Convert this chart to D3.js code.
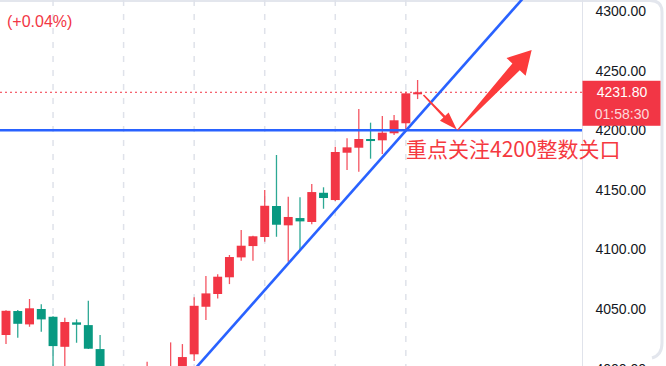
<!DOCTYPE html>
<html>
<head>
<meta charset="utf-8">
<script src="https://cdn.jsdelivr.net/npm/d3@7"></script>
<style>
  body { margin: 0; background: #fff; }
  svg { display: block; }
</style>
</head>
<body>
<svg id="chart"></svg>
<script>
// candles, oldest first (red = up, green = down)
const opens  = [4028.2, 4048.3, 4037.1, 4050.0, 4043.5, 4018.3, 4038.8, 4036.5, 4016.4, 3991.0,
                3980.0, 3972.0, 3982.0, 3997.0, 3989.0, 3998.0, 4012.0, 4051.9, 4062.6, 4076.6,
                4093.3, 4102.8, 4110.4, 4136.4, 4120.2, 4126.3, 4123.0, 4147.5, 4141.4, 4181.1,
                4185.3, 4192.6, 4191.5, 4197.4, 4205.8, 4230.1];
const highs  = [4049.0, 4049.1, 4058.4, 4053.9, 4044.0, 4042.7, 4041.3, 4056.9, 4028.2, 3998.0,
                3988.0, 3986.0, 4005.8, 4001.0, 4022.0, 4020.6, 4059.8, 4077.7, 4079.1, 4095.3,
                4116.2, 4111.5, 4149.8, 4179.2, 4144.2, 4143.7, 4154.8, 4152.1, 4186.1, 4193.2,
                4217.8, 4206.3, 4211.9, 4212.7, 4232.3, 4242.1];
const lows   = [4020.6, 4025.9, 4035.1, 4030.9, 3995.0, 3996.0, 4021.7, 4016.5, 3984.0, 3976.0,
                3966.0, 3963.0, 3978.0, 3984.0, 3985.0, 3993.0, 4006.3, 4040.7, 4058.9, 4070.9,
                4090.5, 4090.5, 4106.4, 4110.6, 4089.7, 4098.6, 4121.0, 4134.1, 4140.6, 4166.6,
                4165.2, 4176.1, 4180.0, 4195.9, 4201.0, 4226.1];
const closes = [4048.5, 4037.6, 4050.6, 4041.3, 4018.9, 4039.1, 4036.8, 4016.7, 3990.0, 3980.0,
                3971.0, 3982.0, 3997.0, 3989.0, 4000.0, 4009.7, 4052.7, 4063.1, 4077.1, 4093.6,
                4103.1, 4111.0, 4136.6, 4120.7, 4127.2, 4123.5, 4148.1, 4143.1, 4181.7, 4185.6,
                4192.6, 4190.9, 4197.9, 4208.3, 4230.9, 4231.8];

const priceTicks = [4000, 4050, 4100, 4150, 4200, 4250, 4300];
const gridIndex = [4, 10, 16, 22, 28, 34];
const lastPrice = 4231.8;
const countdown = "01:58:30";
const changeText = "(+0.04%)";
const noteText = "重点关注4200整数关口";
const levelPrice = 4200;
// trend line and arrows as [bar index, price]
const trendLine = [[16, 3999.0], [44, 4311.0]];
const arrowDown = [[35.5, 4229.5], [38.33, 4200.5]];
const arrowUp = [[38.4, 4200.0], [44.7, 4267.3]];

const W = 666, H = 366, plotRight = 582.5;
const UP = "#f23645", DOWN = "#089981", BLUE = "#2962ff", ARROW = "#fc3b3b";

const candles = opens.map((o, i) => ({i: i, o: o, h: highs[i], l: lows[i], c: closes[i]}));

const svg = d3.select("#chart").attr("width", W).attr("height", H);

const x = d3.scaleLinear().domain([0, 35]).range([6, 417.6]);
const y = d3.scaleLinear().domain([4002.2, 4309.2]).range([H, 0]);
const step = x(1) - x(0);
const bodyW = step * 0.76;

svg.append("defs").append("clipPath").attr("id", "plot")
  .append("rect").attr("x", 0).attr("y", 0).attr("width", plotRight).attr("height", H);

// frame edges
svg.append("path")
  .attr("d", "M0,0.5 H650 Q662,0.5 662,12 V343 Q662,355 652,358")
  .attr("fill", "none").attr("stroke", "#e3e6ed").attr("stroke-width", 3);

const plot = svg.append("g").attr("clip-path", "url(#plot)");

// vertical dashed grid
plot.selectAll("line.grid")
  .data(gridIndex)
  .enter().append("line")
  .attr("class", "grid")
  .attr("x1", d => x(d)).attr("x2", d => x(d))
  .attr("y1", 0).attr("y2", H)
  .attr("stroke", "#dfe2ea").attr("stroke-width", 1.5)
  .attr("stroke-dasharray", "6,8");

// last price dotted line
plot.append("line")
  .attr("x1", 0).attr("x2", plotRight)
  .attr("y1", y(lastPrice)).attr("y2", y(lastPrice))
  .attr("stroke", UP).attr("stroke-width", 1)
  .attr("stroke-dasharray", "2,3");

// wicks
plot.selectAll("line.wick")
  .data(candles)
  .enter().append("line")
  .attr("class", "wick")
  .attr("x1", d => x(d.i)).attr("x2", d => x(d.i))
  .attr("y1", d => y(d.h)).attr("y2", d => y(d.l))
  .attr("stroke", d => d.c >= d.o ? UP : DOWN)
  .attr("stroke-opacity", 0.85)
  .attr("stroke-width", 1.3);

// bodies
plot.selectAll("rect.body")
  .data(candles)
  .enter().append("rect")
  .attr("class", "body")
  .attr("x", d => x(d.i) - bodyW / 2)
  .attr("width", bodyW)
  .attr("y", d => y(Math.max(d.o, d.c)))
  .attr("height", d => Math.max(1.5, Math.abs(y(d.o) - y(d.c))))
  .attr("fill", d => d.c >= d.o ? UP : DOWN);

// support level and trend line
plot.append("line")
  .attr("x1", 0).attr("x2", plotRight)
  .attr("y1", y(levelPrice)).attr("y2", y(levelPrice))
  .attr("stroke", BLUE).attr("stroke-width", 2.6);

plot.append("line")
  .attr("x1", x(trendLine[0][0])).attr("y1", y(trendLine[0][1]))
  .attr("x2", x(trendLine[1][0])).attr("y2", y(trendLine[1][1]))
  .attr("stroke", BLUE).attr("stroke-width", 2.6);

// tapered arrow polygon in pixel space
function arrowShape(a, b, headLen, headHalf, startHalf, endHalf) {
  const x0 = x(a[0]), y0 = y(a[1]), x1 = x(b[0]), y1 = y(b[1]);
  const len = Math.hypot(x1 - x0, y1 - y0);
  const ux = (x1 - x0) / len, uy = (y1 - y0) / len;
  const nx = -uy, ny = ux;
  const bx = x1 - ux * headLen, by = y1 - uy * headLen;
  const pts = [
    [x0 + nx * startHalf, y0 + ny * startHalf],
    [bx + nx * endHalf, by + ny * endHalf],
    [bx + nx * headHalf, by + ny * headHalf],
    [x1, y1],
    [bx - nx * headHalf, by - ny * headHalf],
    [bx - nx * endHalf, by - ny * endHalf],
    [x0 - nx * startHalf, y0 - ny * startHalf]
  ];
  return "M" + pts.map(p => p.join(",")).join("L") + "Z";
}

svg.append("path")
  .attr("d", arrowShape(arrowDown[0], arrowDown[1], 18, 6, 0.8, 1.3))
  .attr("fill", ARROW);

svg.append("path")
  .attr("d", arrowShape(arrowUp[0], arrowUp[1], 23, 13, 0.6, 5))
  .attr("fill", ARROW);

// right price axis
svg.append("line")
  .attr("x1", plotRight).attr("x2", plotRight)
  .attr("y1", 0).attr("y2", H)
  .attr("stroke", "#e0e3eb").attr("stroke-width", 1);

const yAxis = d3.axisRight(y)
  .tickValues(priceTicks)
  .tickSize(0)
  .tickPadding(13)
  .tickFormat(d3.format(".2f"));

const axisG = svg.append("g")
  .attr("transform", "translate(" + plotRight + ",0)")
  .call(yAxis);
axisG.select(".domain").remove();
axisG.selectAll("text")
  .attr("fill", "#131722")
  .style("font-family", "'Liberation Sans', Arial, sans-serif")
  .style("font-size", "14px");

// last price label
const ly = y(lastPrice);
svg.append("rect")
  .attr("x", plotRight).attr("y", ly - 11.5)
  .attr("width", 78).attr("height", 45)
  .attr("fill", UP);

svg.append("text")
  .attr("x", 622).attr("y", ly)
  .attr("dy", "0.35em")
  .attr("text-anchor", "middle")
  .attr("fill", "#fff")
  .style("font-family", "'Liberation Sans', Arial, sans-serif")
  .style("font-size", "14px")
  .text(d3.format(".2f")(lastPrice));

svg.append("text")
  .attr("x", 622).attr("y", ly + 22)
  .attr("dy", "0.35em")
  .attr("text-anchor", "middle")
  .attr("fill", "#fff").attr("fill-opacity", 0.82)
  .style("font-family", "'Liberation Sans', Arial, sans-serif")
  .style("font-size", "14px")
  .text(countdown);

// change text, top left
svg.append("text")
  .attr("x", 7).attr("y", 27)
  .attr("fill", UP)
  .style("font-family", "'Liberation Sans', Arial, sans-serif")
  .style("font-size", "16px")
  .text(changeText);

// annotation
svg.append("text")
  .attr("x", 406).attr("y", 157)
  .attr("fill", "#f5393f")
  .style("font-family", "'Noto Sans CJK SC', sans-serif")
  .style("font-size", "21px")
  .text(noteText);
</script>
</body>
</html>
